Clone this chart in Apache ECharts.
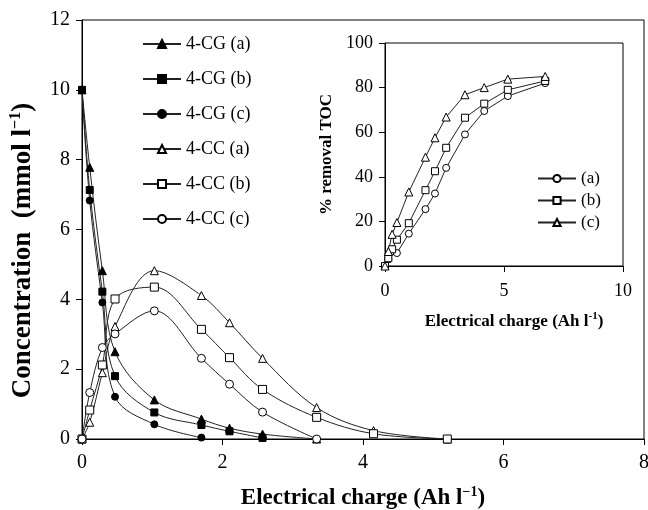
<!DOCTYPE html>
<html>
<head>
<meta charset="utf-8">
<script src="https://cdn.jsdelivr.net/npm/echarts@6/dist/echarts.min.js"></script>
<style>
  html, body { margin: 0; padding: 0; background: #fff; }
  #chart { width: 648px; height: 510px; }
</style>
</head>
<body>
<div id="chart"></div>
<script>
// main plot: concentration vs electrical charge
const charge = [0, 0.11, 0.29, 0.47, 1.03, 1.70, 2.10, 2.57, 3.34, 4.15, 5.20]
const cgA = [10, 7.78, 4.82, 2.50, 1.12, 0.57, 0.31, 0.14, 0]
const cgB = [10, 7.13, 4.22, 1.80, 0.76, 0.40, 0.22, 0.03]
const cgC = [10, 6.83, 3.91, 1.21, 0.42, 0.04]
const ccA = [0, 0.48, 1.90, 3.22, 4.82, 4.11, 3.33, 2.31, 0.90, 0.24, 0]
const ccB = [0, 0.83, 2.12, 4.01, 4.35, 3.14, 2.33, 1.42, 0.62, 0.15, 0]
const ccC = [0, 1.33, 2.62, 3.01, 3.67, 2.31, 1.57, 0.77, 0]
const mainXTicks = [0, 8, 2]
const mainYTicks = [0, 12, 2]

// inset: % TOC removal
const tocCharge = [0, 0.14, 0.30, 0.50, 1.00, 1.70, 2.10, 2.57, 3.36, 4.17, 5.16, 6.73]
const tocA = [0, 3, 6.5, 5.8, 14.5, 25.5, 32.5, 44, 59, 69.5, 76.2, 82]
const tocB = [0, 3.5, 7.5, 11.8, 19.2, 34, 42.5, 53, 66.5, 72.8, 79, 83]
const tocC = [0, 6.5, 14.2, 19.5, 33.2, 48.8, 57.5, 66.8, 76.8, 80, 83.8, 85]
const insetXTicks = [0, 10, 5]
const insetYTicks = [0, 100, 20]

const serif = 'Liberation Serif'
const pairs = (xs, ys) => ys.map((y, i) => [xs[i], y])

function makeLine (name, xs, ys, symbol, filled, idx, smooth, size) {
  return {
    name: name,
    type: 'line',
    xAxisIndex: idx,
    yAxisIndex: idx,
    data: pairs(xs, ys),
    smooth: smooth,
    symbol: symbol,
    symbolSize: size,
    showAllSymbol: true,
    lineStyle: { color: '#222', width: 1 },
    itemStyle: { color: filled ? '#000' : '#fff', borderColor: '#000', borderWidth: 1 },
    emphasis: { disabled: true },
    animation: false
  }
}

function axisBase (ticks, fontSize, margin) {
  return {
    type: 'value',
    min: ticks[0],
    max: ticks[1],
    interval: ticks[2],
    axisLine: { show: true, lineStyle: { color: '#000', width: 1 } },
    axisTick: { show: true, length: 6, lineStyle: { color: '#000' } },
    axisLabel: { fontFamily: serif, fontSize: fontSize, color: '#000', margin: margin },
    splitLine: { show: false }
  }
}

function titleRich (size, supSize, padding) {
  return {
    color: '#000',
    padding: padding || 0,
    rich: {
      b: { fontFamily: serif, fontWeight: 'bold', fontSize: size, lineHeight: size + 4, color: '#000' },
      s: { fontFamily: serif, fontWeight: 'bold', fontSize: supSize, lineHeight: supSize, verticalAlign: 'top', color: '#000' }
    }
  }
}

const chart = echarts.init(document.getElementById('chart'), null, { renderer: 'canvas' })
chart.setOption({
  backgroundColor: '#fff',
  animation: false,
  grid: [
    { left: 82, top: 20, width: 562, height: 419, outerBoundsMode: 'none', containLabel: false, show: true, borderColor: '#000', borderWidth: 1, backgroundColor: 'transparent' },
    { left: 385, top: 43, width: 238, height: 223, outerBoundsMode: 'none', containLabel: false, show: true, borderColor: '#000', borderWidth: 1, backgroundColor: '#fff' }
  ],
  legend: [
    {
      orient: 'vertical',
      left: 137,
      top: 30,
      itemWidth: 38,
      itemHeight: 10,
      itemGap: 17,
      textStyle: { fontFamily: serif, fontSize: 18, color: '#000' },
      data: ['4-CG (a)', '4-CG (b)', '4-CG (c)', '4-CC (a)', '4-CC (b)', '4-CC (c)']
    },
    {
      orient: 'vertical',
      left: 532,
      top: 165,
      itemWidth: 38,
      itemHeight: 9,
      itemGap: 5,
      textStyle: { fontFamily: serif, fontSize: 17, color: '#000' },
      data: ['(a)', '(b)', '(c)']
    }
  ],
  xAxis: [
    Object.assign(axisBase(mainXTicks, 20, 14), {
      gridIndex: 0,
      name: '{b|Electrical charge (Ah l}{s|−1}{b|)}',
      nameLocation: 'middle',
      nameGap: 46,
      nameTextStyle: titleRich(23, 14)
    }),
    Object.assign(axisBase(insetXTicks, 18, 16), {
      gridIndex: 1,
      name: '{b|Electrical charge (Ah l}{s|-1}{b|)}',
      nameLocation: 'middle',
      nameGap: 45,
      nameTextStyle: titleRich(17, 11, [0, 0, 0, 20])
    })
  ],
  yAxis: [
    Object.assign(axisBase(mainYTicks, 20, 12), {
      gridIndex: 0,
      name: '{b|Concentration  (mmol l}{s|−1}{b|)}',
      nameLocation: 'middle',
      nameGap: 43,
      nameTextStyle: titleRich(27, 16, [0, 42, 0, 0])
    }),
    Object.assign(axisBase(insetYTicks, 18, 12), {
      gridIndex: 1,
      name: '{b|% removal TOC}',
      nameLocation: 'middle',
      nameGap: 48,
      nameTextStyle: titleRich(17, 11)
    })
  ],
  series: [
    makeLine('4-CG (a)', charge, cgA, 'triangle', true, 0, 0.35, 8),
    makeLine('4-CG (b)', charge, cgB, 'rect', true, 0, 0.35, 7),
    makeLine('4-CG (c)', charge, cgC, 'circle', true, 0, 0.35, 7),
    makeLine('4-CC (a)', charge, ccA, 'triangle', false, 0, 0.35, 8),
    makeLine('4-CC (b)', charge, ccB, 'rect', false, 0, 0.35, 8),
    makeLine('4-CC (c)', charge, ccC, 'circle', false, 0, 0.35, 8),
    makeLine('(a)', tocCharge, tocA, 'circle', false, 1, false, 7),
    makeLine('(b)', tocCharge, tocB, 'rect', false, 1, false, 7),
    makeLine('(c)', tocCharge, tocC, 'triangle', false, 1, false, 8)
  ]
})
</script>
</body>
</html>
